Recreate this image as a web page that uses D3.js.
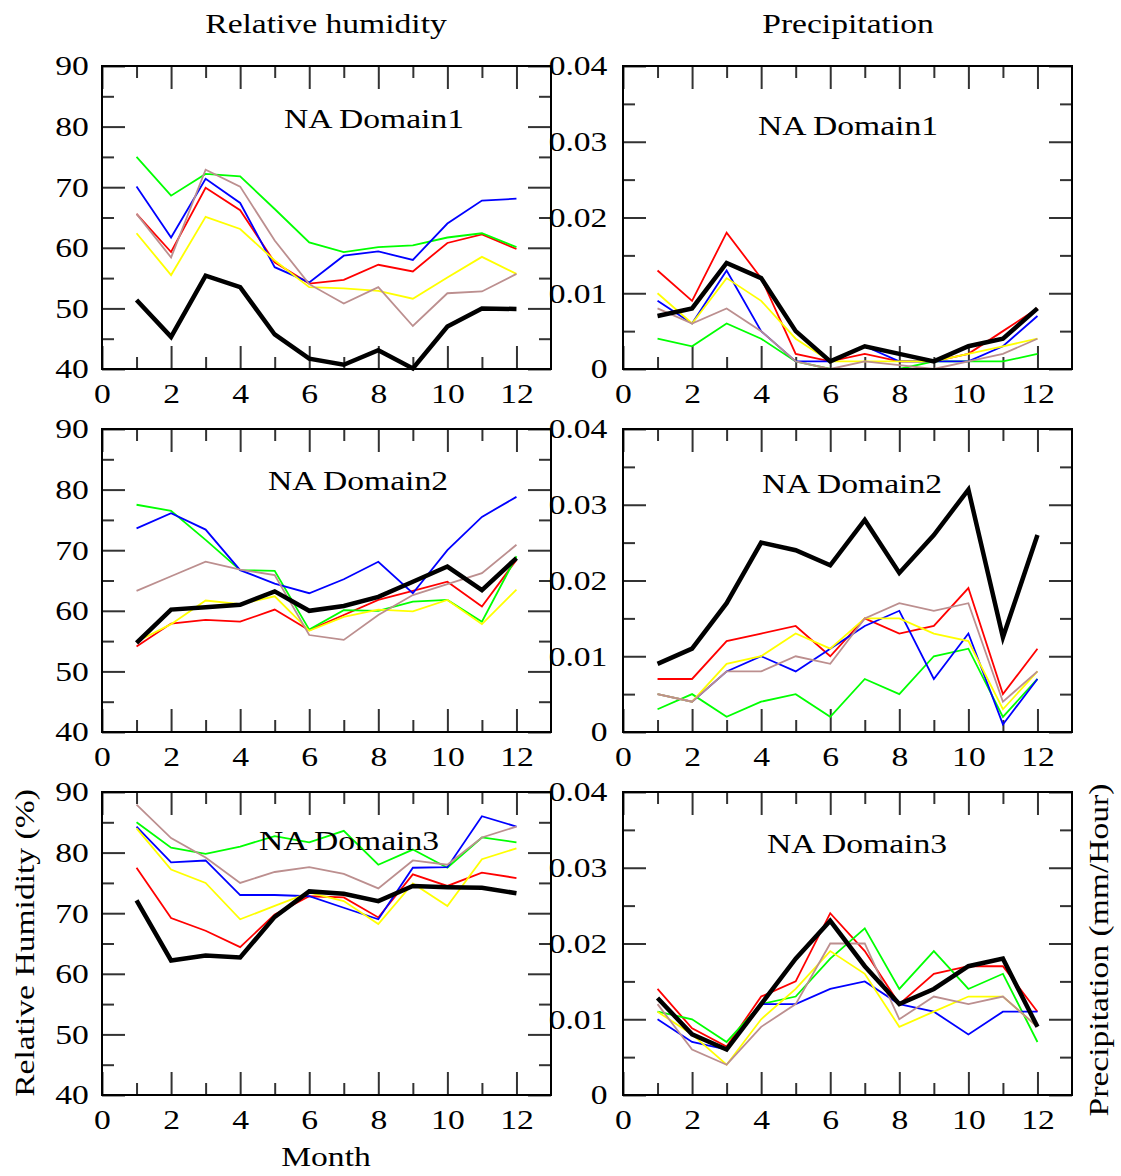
<!DOCTYPE html>
<html>
<head>
<meta charset="utf-8">
<script src="https://cdn.jsdelivr.net/npm/d3@7"></script>
<style>
  body { margin: 0; background: #fff; }
  text { font-family: "Liberation Serif", "Times New Roman", serif; fill: #000; }
</style>
</head>
<body>
<div id="chart"></div>
<script>
// Month axis
const months = d3.range(1, 13);
const monthTicks = [0, 2, 4, 6, 8, 10, 12];
const monthMinor = [1, 3, 5, 7, 9, 11];

// Tick values
const rhTicks = [40, 50, 60, 70, 80, 90];
const rhMinor = [45, 55, 65, 75, 85];
const prTicks = [0, 0.01, 0.02, 0.03, 0.04];
const prMinor = [0.005, 0.015, 0.025, 0.035];

// Series order (drawing order): red, green, blue, yellow, brown, black on top
const seriesColors = ["#ff0000", "#00ff00", "#0000ff", "#ffff00", "#bc8f8f", "#000000"];

// Relative humidity, NA Domain1
const rh1Red    = [65.6, 59.3, 69.9, 66.2, 57.6, 54.1, 54.7, 57.2, 56.1, 60.8, 62.2, 59.8];
const rh1Green  = [75.0, 68.6, 72.2, 71.8, 66.4, 60.9, 59.3, 60.1, 60.4, 61.7, 62.4, 60.1];
const rh1Blue   = [70.1, 61.7, 71.4, 67.4, 56.8, 54.3, 58.7, 59.4, 58.0, 64.0, 67.8, 68.1];
const rh1Yellow = [62.4, 55.5, 65.1, 63.1, 57.9, 53.5, 53.3, 52.9, 51.6, 55.1, 58.5, 55.7];
const rh1Brown  = [65.6, 58.4, 72.9, 70.1, 61.2, 54.0, 50.8, 53.5, 47.1, 52.5, 52.8, 55.7];
const rh1Black  = [51.4, 45.3, 55.4, 53.5, 45.7, 41.7, 40.7, 43.1, 40.1, 47.0, 50.0, 49.9];

// Relative humidity, NA Domain2
const rh2Red    = [54.1, 57.9, 58.5, 58.2, 60.2, 56.8, 59.3, 61.8, 63.3, 64.8, 60.7, 68.4];
const rh2Green  = [77.5, 76.5, 71.7, 66.7, 66.6, 56.9, 60.1, 60.0, 61.5, 61.8, 58.2, 69.0];
const rh2Blue   = [73.6, 76.1, 73.4, 66.7, 64.5, 62.9, 65.2, 68.1, 62.9, 70.0, 75.5, 78.8];
const rh2Yellow = [54.9, 57.8, 61.7, 61.1, 62.4, 56.7, 59.0, 60.2, 59.9, 61.8, 57.8, 63.5];
const rh2Brown  = [63.3, 65.7, 68.1, 66.8, 65.9, 56.0, 55.2, 59.3, 62.6, 64.4, 66.2, 70.9];
const rh2Black  = [54.7, 60.2, 60.6, 61.0, 63.2, 60.0, 60.8, 62.3, 64.8, 67.3, 63.4, 68.7];

// Relative humidity, NA Domain3
const rh3Red    = [77.5, 69.2, 67.1, 64.4, 69.8, 72.8, 72.6, 69.3, 76.4, 74.5, 76.7, 75.8];
const rh3Green  = [85.0, 80.8, 79.8, 81.0, 82.7, 81.7, 83.6, 78.0, 80.5, 77.5, 82.5, 81.7];
const rh3Blue   = [84.3, 78.4, 78.7, 73.0, 73.0, 72.8, 70.9, 69.0, 77.5, 77.6, 86.0, 84.3];
const rh3Yellow = [84.0, 77.2, 75.0, 69.0, 71.2, 73.4, 72.0, 68.2, 74.9, 71.2, 78.9, 80.7];
const rh3Brown  = [87.9, 82.4, 79.2, 75.0, 76.8, 77.6, 76.5, 74.1, 78.7, 78.0, 82.5, 84.3];
const rh3Black  = [72.1, 62.2, 63.0, 62.7, 69.4, 73.6, 73.2, 72.0, 74.5, 74.3, 74.2, 73.3];

// Precipitation (mm/Hour), NA Domain1
const pr1Red    = [0.013, 0.009, 0.018, 0.012, 0.002, 0.001, 0.002, 0.001, 0.001, 0.002, 0.005, 0.008];
const pr1Green  = [0.004, 0.003, 0.006, 0.004, 0.001, 0.000, 0.000, 0.000, 0.001, 0.001, 0.001, 0.002];
const pr1Blue   = [0.009, 0.006, 0.013, 0.005, 0.001, 0.001, 0.003, 0.001, 0.001, 0.001, 0.003, 0.007];
const pr1Yellow = [0.010, 0.006, 0.012, 0.009, 0.004, 0.001, 0.001, 0.001, 0.001, 0.002, 0.003, 0.004];
const pr1Brown  = [0.008, 0.006, 0.008, 0.005, 0.001, 0.000, 0.001, 0.0005, 0.000, 0.001, 0.002, 0.004];
const pr1Black  = [0.007, 0.008, 0.014, 0.012, 0.005, 0.001, 0.003, 0.002, 0.001, 0.003, 0.004, 0.008];

// Precipitation (mm/Hour), NA Domain2
const pr2Red    = [0.007, 0.007, 0.012, 0.013, 0.014, 0.010, 0.015, 0.013, 0.014, 0.019, 0.005, 0.011];
const pr2Green  = [0.003, 0.005, 0.002, 0.004, 0.005, 0.002, 0.007, 0.005, 0.010, 0.011, 0.002, 0.007];
const pr2Blue   = [0.005, 0.004, 0.008, 0.010, 0.008, 0.011, 0.014, 0.016, 0.007, 0.013, 0.001, 0.007];
const pr2Yellow = [0.005, 0.004, 0.009, 0.010, 0.013, 0.011, 0.015, 0.015, 0.013, 0.012, 0.003, 0.008];
const pr2Brown  = [0.005, 0.004, 0.008, 0.008, 0.010, 0.009, 0.015, 0.017, 0.016, 0.017, 0.004, 0.008];
const pr2Black  = [0.009, 0.011, 0.017, 0.025, 0.024, 0.022, 0.028, 0.021, 0.026, 0.032, 0.0125, 0.026];

// Precipitation (mm/Hour), NA Domain3
const pr3Red    = [0.014, 0.0088, 0.0064, 0.013, 0.015, 0.024, 0.019, 0.012, 0.016, 0.017, 0.017, 0.011];
const pr3Green  = [0.011, 0.010, 0.007, 0.012, 0.013, 0.018, 0.022, 0.014, 0.019, 0.014, 0.016, 0.007];
const pr3Blue   = [0.010, 0.007, 0.006, 0.012, 0.012, 0.014, 0.015, 0.012, 0.011, 0.008, 0.011, 0.011];
const pr3Yellow = [0.011, 0.008, 0.004, 0.010, 0.014, 0.019, 0.016, 0.009, 0.011, 0.013, 0.013, 0.009];
const pr3Brown  = [0.012, 0.006, 0.004, 0.009, 0.012, 0.020, 0.020, 0.010, 0.013, 0.012, 0.013, 0.009];
const pr3Black  = [0.0128, 0.008, 0.006, 0.012, 0.018, 0.023, 0.017, 0.012, 0.014, 0.017, 0.018, 0.009];

// Panel list built from the arrays above
const panels = [
    { col: 0, row: 0, label: "NA Domain1", kind: "rh", series: [rh1Red, rh1Green, rh1Blue, rh1Yellow, rh1Brown, rh1Black] },
    { col: 1, row: 0, label: "NA Domain1", kind: "pr", series: [pr1Red, pr1Green, pr1Blue, pr1Yellow, pr1Brown, pr1Black] },
    { col: 0, row: 1, label: "NA Domain2", kind: "rh", series: [rh2Red, rh2Green, rh2Blue, rh2Yellow, rh2Brown, rh2Black] },
    { col: 1, row: 1, label: "NA Domain2", kind: "pr", series: [pr2Red, pr2Green, pr2Blue, pr2Yellow, pr2Brown, pr2Black] },
    { col: 0, row: 2, label: "NA Domain3", kind: "rh", series: [rh3Red, rh3Green, rh3Blue, rh3Yellow, rh3Brown, rh3Black] },
    { col: 1, row: 2, label: "NA Domain3", kind: "pr", series: [pr3Red, pr3Green, pr3Blue, pr3Yellow, pr3Brown, pr3Black] }
];

// Layout
const width = 1121, height = 1176;
const colX = [102, 623];
const rowY = [66, 429, 792];
const panelW = 449, panelH = 303;
const fontSize = 28;
const stretch = 1.2;   // the source font is wider than Times
const majorLen = 23, minorLen = 12;
// panel label positions relative to panel origin [dx center, dy baseline]
const labelPos = [[272, 62], [225, 69], [256, 61], [229, 64], [247, 58], [234, 61]];

const svg = d3.select("#chart").append("svg")
    .attr("width", width)
    .attr("height", height);

// Helper: place stretched text
function addText(parent, str, x, y, anchor, rotate = 0) {
    return parent.append("text")
        .attr("transform", `translate(${x},${y}) rotate(${rotate}) scale(${stretch},1)`)
        .attr("text-anchor", anchor)
        .style("font-size", fontSize + "px")
        .text(str);
}

// Style an axis group: hide domain, set tick look
function styleAxis(g, withLabels) {
    g.select(".domain").remove();
    g.selectAll(".tick line").attr("stroke", "#333").attr("stroke-width", 2);
    if (withLabels) {
        g.selectAll(".tick text")
            .attr("transform", `scale(${stretch},1)`)
            .style("font-size", fontSize + "px")
            .style("font-family", '"Liberation Serif", "Times New Roman", serif')
            .attr("fill", "#000");
    } else {
        g.selectAll(".tick text").remove();
    }
}

panels.forEach((p, i) => {
    const x0 = colX[p.col], y0 = rowY[p.row];
    const g = svg.append("g").attr("transform", `translate(${x0},${y0})`);

    const x = d3.scaleLinear().domain([0, 13]).range([0, panelW]);
    const y = p.kind === "rh"
        ? d3.scaleLinear().domain([40, 90]).range([panelH, 0])
        : d3.scaleLinear().domain([0, 0.04]).range([panelH, 0]);
    const yMajor = p.kind === "rh" ? rhTicks : prTicks;
    const yMinor = p.kind === "rh" ? rhMinor : prMinor;
    const yFmt = p.kind === "rh" ? d3.format("d") : (d => d === 0 ? "0" : d3.format(".2f")(d));

    // bottom axis (labels + major), minor
    g.append("g").attr("transform", `translate(0,${panelH})`)
        .call(d3.axisBottom(x).tickValues(monthTicks).tickSize(-majorLen).tickPadding(14).tickFormat(d3.format("d")))
        .call(a => styleAxis(a, true));
    g.append("g").attr("transform", `translate(0,${panelH})`)
        .call(d3.axisBottom(x).tickValues(monthMinor).tickSize(-minorLen))
        .call(a => styleAxis(a, false));
    // top axis
    g.append("g")
        .call(d3.axisTop(x).tickValues(monthTicks).tickSize(-majorLen))
        .call(a => styleAxis(a, false));
    g.append("g")
        .call(d3.axisTop(x).tickValues(monthMinor).tickSize(-minorLen))
        .call(a => styleAxis(a, false));

    // left axis
    g.append("g")
        .call(d3.axisLeft(y).tickValues(yMajor).tickSize(-majorLen).tickPadding(p.kind === "rh" ? 11 : 13).tickFormat(yFmt))
        .call(a => styleAxis(a, true));
    g.append("g")
        .call(d3.axisLeft(y).tickValues(yMinor).tickSize(-minorLen))
        .call(a => styleAxis(a, false));
    // right axis
    g.append("g").attr("transform", `translate(${panelW},0)`)
        .call(d3.axisRight(y).tickValues(yMajor).tickSize(-majorLen))
        .call(a => styleAxis(a, false));
    g.append("g").attr("transform", `translate(${panelW},0)`)
        .call(d3.axisRight(y).tickValues(yMinor).tickSize(-minorLen))
        .call(a => styleAxis(a, false));

    // lines
    const line = d3.line()
        .x((d, j) => x(months[j]))
        .y(d => y(d));
    p.series.forEach((s, k) => {
        const isBlack = k === p.series.length - 1;
        g.append("path")
            .datum(s)
            .attr("fill", "none")
            .attr("stroke", seriesColors[k])
            .attr("stroke-width", isBlack ? 4.5 : 1.8)
            .attr("d", line);
    });

    // frame
    g.append("rect")
        .attr("width", panelW)
        .attr("height", panelH)
        .attr("fill", "none")
        .attr("stroke", "#000")
        .attr("stroke-width", 2);

    // panel label
    addText(g, p.label, labelPos[i][0], labelPos[i][1], "middle");
});

// Column titles and axis titles
addText(svg, "Relative humidity", 326, 33, "middle");
addText(svg, "Precipitation", 848, 33, "middle");
addText(svg, "Month", 326, 1166, "middle");
addText(svg, "Relative Humidity (%)", 34, 943, "middle", -90);
addText(svg, "Precipitation (mm/Hour)", 1108, 950, "middle", -90);
</script>
</body>
</html>
